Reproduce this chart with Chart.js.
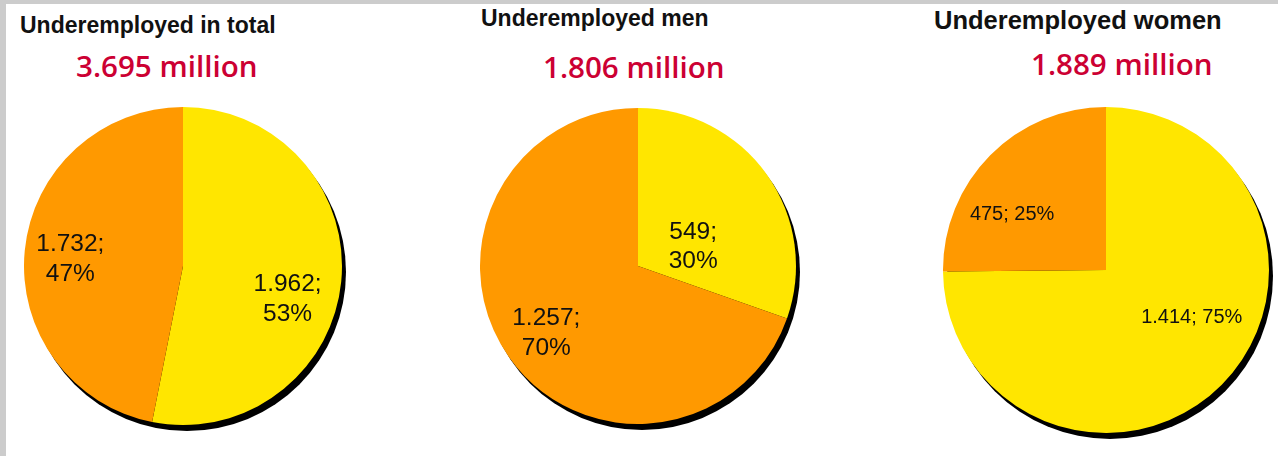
<!DOCTYPE html>
<html>
<head>
<meta charset="utf-8">
<script src="https://cdn.jsdelivr.net/npm/chart.js@4"></script>
<style>
    html, body {
        margin: 0;
        padding: 0;
    }
    body {
        width: 1272px;
        height: 452px;
        background: #fff;
        border-top: 4px solid #cccccc;
        border-left: 6px solid #cccccc;
        position: relative;
        overflow: hidden;
        font-family: "Liberation Sans", Arial, sans-serif;
    }
    .title {
        position: absolute;
        font-weight: bold;
        color: #111;
        white-space: nowrap;
        line-height: 1;
    }
    .sub {
        position: absolute;
        font-family: "Open Sans", "Noto Sans", sans-serif;
        font-weight: 600;
        font-size: 29.6px;
        color: #cc0033;
        white-space: nowrap;
        line-height: 1;
    }
    .pie {
        position: absolute;
    }
</style>
</head>
<body>

<div class="title" id="t0" style="left: 14px; top: 10px; font-size: 23px;"></div>
<div class="title" id="t1" style="left: 475px; top: 3px; font-size: 23px;"></div>
<div class="title" id="t2" style="left: 928px; top: 4px; font-size: 25.5px;"></div>

<div class="sub" id="s0" style="left: 70px; top: 47px;"></div>
<div class="sub" id="s1" style="left: 537px; top: 48px;"></div>
<div class="sub" id="s2" style="left: 1025px; top: 45px;"></div>

<div class="pie" style="left: 18px; top: 103px; width: 328px; height: 328px;"><canvas id="pie0"></canvas></div>
<div class="pie" style="left: 474px; top: 104px; width: 326px; height: 326px;"><canvas id="pie1"></canvas></div>
<div class="pie" style="left: 937px; top: 103px; width: 336px; height: 336px;"><canvas id="pie2"></canvas></div>

<script>
// data (thousands of people)
const categories = ['Segment 1', 'Segment 2'];
const titles = ['Underemployed in total', 'Underemployed men', 'Underemployed women'];
const totalsMillion = ['3.695', '1.806', '1.889'];
const totalValues = [1962, 1732];
const menValues = [549, 1257];
const womenValues = [1414, 475];

const colors = ['#ffe600', '#ff9900'];

// label style per chart: font size, two lines or one, [angle shift deg, radius fraction] per slice
const labelStyle = [
    { size: 24.5, split: true, pos: [[12, 0.69], [-2, 0.71]] },
    { size: 24.5, split: true, pos: [[16, 0.37], [-1, 0.72]] },
    { size: 20, split: false, pos: [[-16, 0.6], [-14, 0.67]] }
];

function fmt(n) {
    // german thousands separator
    return n.toString().replace(/\B(?=(\d{3})+(?!\d))/g, '.');
}

const shadowPlugin = {
    id: 'shadow',
    beforeDatasetsDraw(chart) {
        const arc = chart.getDatasetMeta(0).data[0];
        if (!arc) return;
        const ctx = chart.ctx;
        ctx.save();
        ctx.fillStyle = '#000';
        ctx.beginPath();
        ctx.arc(arc.x + 4, arc.y + 6, arc.outerRadius, 0, Math.PI * 2);
        ctx.fill();
        ctx.restore();
    }
};

const sliceLabels = {
    id: 'sliceLabels',
    afterDatasetsDraw(chart, args, opts) {
        const ctx = chart.ctx;
        const data = chart.data.datasets[0].data;
        const sum = data.reduce((a, b) => a + b, 0);
        const st = opts.style;
        ctx.save();
        ctx.fillStyle = '#111';
        ctx.font = st.size + 'px "Liberation Sans", Arial, sans-serif';
        ctx.textAlign = 'center';
        ctx.textBaseline = 'middle';
        chart.getDatasetMeta(0).data.forEach((arc, i) => {
            const p = arc.getProps(['x', 'y', 'startAngle', 'endAngle', 'outerRadius'], true);
            const mid = (p.startAngle + p.endAngle) / 2 + st.pos[i][0] * Math.PI / 180;
            const r = p.outerRadius * st.pos[i][1];
            const x = p.x + Math.cos(mid) * r;
            const y = p.y + Math.sin(mid) * r;
            const a = fmt(data[i]) + ';';
            const b = Math.round(data[i] / sum * 100) + '%';
            if (st.split) {
                const lh = st.size * 1.22;
                ctx.fillText(a, x, y - lh / 2);
                ctx.fillText(b, x, y + lh / 2);
            } else {
                ctx.fillText(a + ' ' + b, x, y);
            }
        });
        ctx.restore();
    }
};

const allValues = [totalValues, menValues, womenValues];

allValues.forEach((vals, i) => {
    document.getElementById('t' + i).textContent = titles[i];
    document.getElementById('s' + i).textContent = totalsMillion[i] + ' million';

    new Chart(document.getElementById('pie' + i), {
        type: 'pie',
        data: {
            labels: categories,
            datasets: [{
                data: vals,
                backgroundColor: colors,
                borderWidth: 0,
                hoverOffset: 0
            }]
        },
        options: {
            responsive: true,
            maintainAspectRatio: false,
            animation: false,
            layout: {
                padding: { top: 0, left: 0, right: 10, bottom: 10 }
            },
            plugins: {
                legend: { display: false },
                tooltip: { enabled: false },
                sliceLabels: { style: labelStyle[i] }
            }
        },
        plugins: [shadowPlugin, sliceLabels]
    });
});
</script>
</body>
</html>
